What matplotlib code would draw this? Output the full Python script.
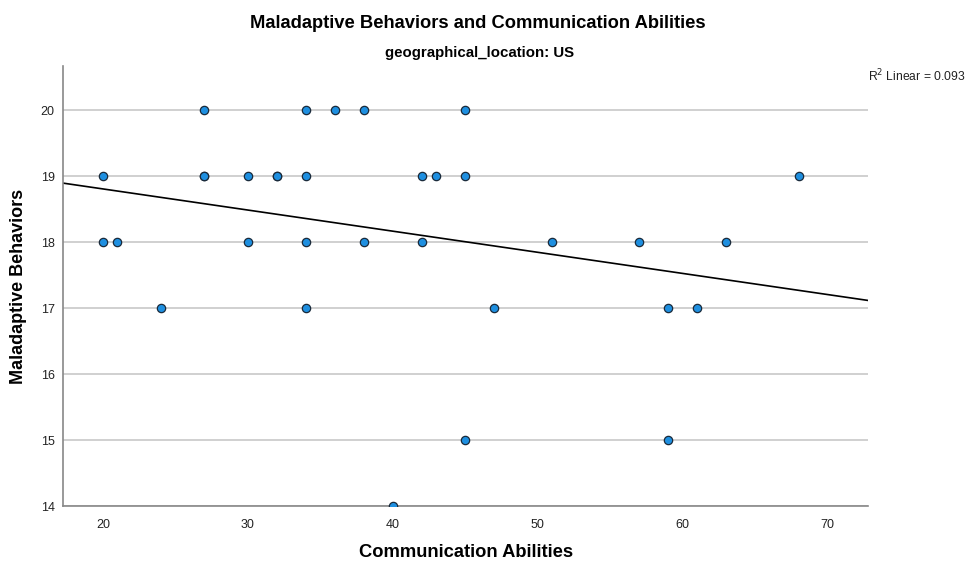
import numpy as np
import matplotlib
matplotlib.use("Agg")
import matplotlib.pyplot as plt

plt.rcParams['font.family'] = ['Liberation Sans', 'DejaVu Sans']

# communication abilities (x) vs maladaptive behaviors (y), US sample
comm = [27, 34, 36, 38, 45,
        20, 27, 27, 30, 32, 32, 34, 42, 43, 45, 68,
        20, 21, 30, 34, 38, 42, 51, 57, 63,
        24, 34, 47, 59, 61,
        45, 59,
        40]
malad = [20, 20, 20, 20, 20,
         19, 19, 19, 19, 19, 19, 19, 19, 19, 19, 19,
         18, 18, 18, 18, 18, 18, 18, 18, 18,
         17, 17, 17, 17, 17,
         15, 15,
         14]
r2_text = "0.093"
x_ticks = [20, 30, 40, 50, 60, 70]
y_ticks = [14, 15, 16, 17, 18, 19, 20]

fig = plt.figure(figsize=(9.69, 5.65), dpi=100)
ax = fig.add_axes([0.065, 0.1044, 0.831, 0.7786])

xlo, xhi = 17.25, 72.8
ax.set_xlim(xlo, xhi)
ax.set_ylim(14, 20.67)

for yv in y_ticks:
    ax.axhline(yv, color='#c8c8c8', lw=1.2, zorder=1)

# least squares fit line
slope, icpt = np.polyfit(comm, malad, 1)
xx = np.array([xlo, xhi])
ax.plot(xx, icpt + slope * xx, color='black', lw=1.2, zorder=2)

ax.plot(comm, malad, 'o', ms=6, mfc='#1e8fe0', mec='#1a2a3a', mew=0.9,
        zorder=3, clip_on=True)

ax.set_xticks(x_ticks)
ax.set_yticks(y_ticks)
ax.tick_params(length=0, labelsize=9, colors='#222222')
ax.tick_params(axis='x', pad=9)
ax.tick_params(axis='y', pad=6)
for s in ['top', 'right']:
    ax.spines[s].set_visible(False)
for s in ['left', 'bottom']:
    ax.spines[s].set_color('#888888')
    ax.spines[s].set_linewidth(1.2)

ax.set_xlabel('Communication Abilities', fontsize=13.2, fontweight='bold', labelpad=10)
ax.set_ylabel('Maladaptive Behaviors', fontsize=13, fontweight='bold', labelpad=10)

fig.text(0.4935, 0.959, 'Maladaptive Behaviors and Communication Abilities',
         ha='center', va='center', fontsize=13.2, fontweight='bold')
fig.text(0.4945, 0.906, 'geographical_location: US',
         ha='center', va='center', fontsize=10.8, fontweight='bold')
fig.text(0.996, 0.865, r'R$^2$ Linear = ' + r2_text, ha='right', va='center',
         fontsize=8.7, color='#222222')

fig.savefig('out.png', dpi=100)
